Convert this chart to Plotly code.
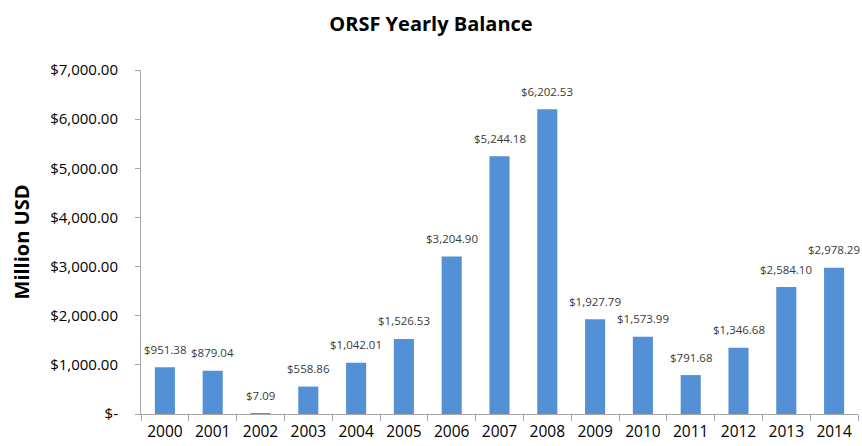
import plotly.graph_objects as go

years = ["2000", "2001", "2002", "2003", "2004", "2005", "2006", "2007",
         "2008", "2009", "2010", "2011", "2012", "2013", "2014"]
balance = [951.38, 879.04, 7.09, 558.86, 1042.01, 1526.53, 3204.90, 5244.18,
           6202.53, 1927.79, 1573.99, 791.68, 1346.68, 2584.10, 2978.29]
tick_vals = [0, 1000, 2000, 3000, 4000, 5000, 6000, 7000]
tick_text = ["$-", "$1,000.00", "$2,000.00", "$3,000.00", "$4,000.00",
             "$5,000.00", "$6,000.00", "$7,000.00"]

FONT = "Open Sans, DejaVu Sans, sans-serif"

fig = go.Figure()
fig.add_trace(go.Bar(
    x=years, y=balance,
    marker=dict(color="#5390d5", line=dict(width=0)),
    width=0.42,
    hoverinfo="x+y",
))

# value labels above each bar (category index used as x position)
for i, v in enumerate(balance):
    fig.add_annotation(
        x=i, y=v, text=f"${v:,.2f}", showarrow=False,
        yshift=18, yanchor="middle",
        font=dict(family=FONT, size=11.5, color="#3a3a3a"),
    )

fig.update_layout(
    width=862, height=446,
    margin=dict(l=141, r=4, t=70, b=30),
    paper_bgcolor="white", plot_bgcolor="white",
    showlegend=False,
    title=dict(text="<b>ORSF Yearly Balance</b>", x=0.5, xanchor="center",
               y=0.947, yanchor="middle",
               font=dict(family=FONT, size=20, color="#000000")),
    font=dict(family=FONT, color="#000000"),
)

fig.update_xaxes(
    type="category", range=[-0.5, len(years) - 0.5],
    showline=True, linecolor="#a6a6a6", linewidth=1,
    ticks="outside", tickson="boundaries", ticklen=6, tickcolor="#a6a6a6",
    ticklabelstandoff=3,
    tickfont=dict(family=FONT, size=15.5, color="#000000"),
    tickangle=0,
    showgrid=False, zeroline=False,
)

fig.update_yaxes(
    range=[0, 7000],
    tickvals=tick_vals, ticktext=tick_text,
    showline=True, linecolor="#a6a6a6", linewidth=1,
    ticks="outside", ticklen=5, tickcolor="#a6a6a6",
    ticklabelstandoff=14,
    tickfont=dict(family=FONT, size=15, color="#000000"),
    showgrid=False, zeroline=False,
    title=dict(text="<b>Million USD</b>", standoff=15,
               font=dict(family=FONT, size=20, color="#000000")),
)

fig.write_html("out.html")
